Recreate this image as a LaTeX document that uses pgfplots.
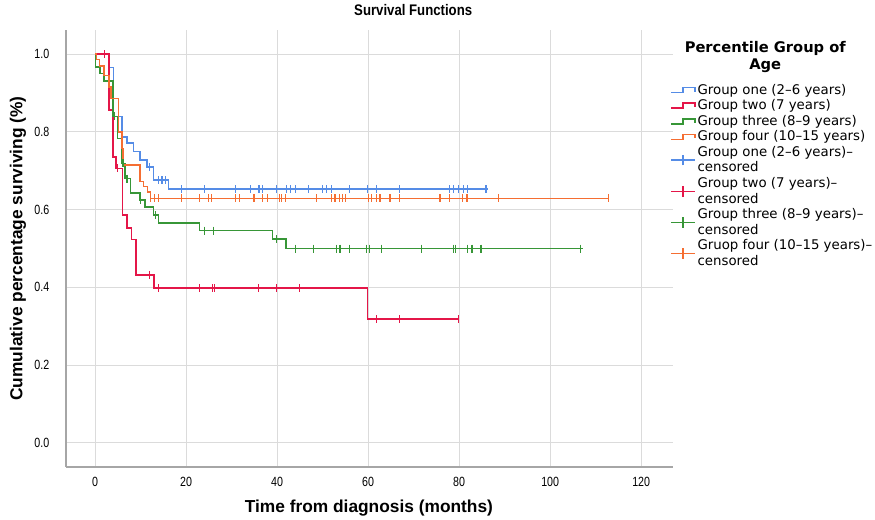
\documentclass[border=0pt]{standalone}
\usepackage{fontspec}
\setmainfont{DejaVu Sans}
\newfontfamily\labelfont{Liberation Sans}
\newfontfamily\titlefont{Liberation Sans}[FakeStretch=0.86]
\newfontfamily\tickfont{Liberation Sans}[FakeStretch=0.8]
\usepackage{pgfplots}
\pgfplotsset{compat=1.18}

\definecolor{gone}{RGB}{85,140,230}
\definecolor{gtwo}{RGB}{228,22,72}
\definecolor{gthree}{RGB}{55,150,55}
\definecolor{gfour}{RGB}{245,110,50}

\pgfplotsset{
  steplegend/.style={legend image code/.code={
    \draw[##1] (0pt,-1.9pt) -- (9pt,-1.9pt) -- (9pt,1.9pt) -- (18pt,1.9pt) -- (18pt,-1.2pt);}},
  censlegend/.style={legend image code/.code={
    \draw[##1] (0pt,0pt) -- (18pt,0pt);
    \draw[##1] (9pt,-4pt) -- (9pt,4pt);}},
  cens/.style={only marks, mark=|, mark size=3pt, line width=1pt, color=#1, censlegend},
  surv/.style={const plot, no marks, line width=1.2pt, color=#1, steplegend},
}

\begin{document}
\begin{tikzpicture}
\begin{axis}[
  scale only axis,
  width=455.25pt, height=327.75pt,
  xmin=-6.4, xmax=127, ymin=-0.062, ymax=1.062,
  axis x line*=bottom, axis y line*=left,
  axis line style={draw=gray!70, line width=1.2pt, -},
  xtick={0,20,40,60,80,100,120},
  ytick={0,0.2,0.4,0.6,0.8,1},
  grid=major,
  major grid style={draw=gray!28, line width=0.8pt},
  tick style={draw=none},
  clip mode=individual,
  /pgf/number format/assume math mode=true,
  ticklabel style={font=\tickfont\fontsize{10}{12}\selectfont},
  yticklabel style={/pgf/number format/.cd, fixed, fixed zerofill, precision=1},
  yticklabel shift=9pt,
  xticklabel shift=4pt,
  label style={font=\labelfont\bfseries\fontsize{13}{15}\selectfont},
  xlabel={Time from diagnosis (months)},
  ylabel={Cumulative percentage surviving (\%)},
  xlabel style={at={(axis description cs:0.499,-0.094)}, anchor=center},
  ylabel style={at={(axis description cs:-0.079,0.5)}, anchor=center},
  title={Survival Functions},
  title style={at={(axis description cs:0.572,1.027)}, anchor=center,
    font=\titlefont\bfseries\fontsize{11.5}{13}\selectfont},
  legend style={at={(axis description cs:0.995,0.881)}, anchor=north west,
    draw=none, fill=none, inner sep=0pt, row sep=0pt,
    font=\fontsize{10}{11.6}\selectfont,
    nodes={inner sep=1.3pt}, cells={align=left}},
  legend cell align=left,
]
\coordinate (sw) at (rel axis cs:0,0);

% Group one (2-6 years)
\addplot[surv=gone] table {
x y
0 1.0
3.1 0.966
4.0 0.84
5.9 0.787
7.0 0.772
8.4 0.749
9.9 0.728
11.4 0.71
12.8 0.676
16.1 0.653
86.4 0.653
};
\addlegendentry{Group one (2–6 years)}

% Group two (7 years)
\addplot[surv=gtwo] table {
x y
0 1.0
3.1 0.856
3.9 0.736
4.6 0.706
6.0 0.586
7.0 0.553
8.0 0.523
9.0 0.432
13.0 0.398
59.9 0.318
79.8 0.318
};
\addlegendentry{Group two (7 years)}

% Group three (8-9 years)
\addplot[surv=gthree] table {
x y
0 1.0
0.1 0.967
1.1 0.95
2.0 0.931
3.9 0.84
4.9 0.783
5.9 0.719
6.6 0.68
7.8 0.643
9.9 0.625
11.0 0.606
12.8 0.586
13.9 0.566
22.9 0.546
39.0 0.524
42.0 0.50
107.3 0.50
};
\addlegendentry{Group three (8–9 years)}

% Group four (10-15 years)
\addplot[surv=gfour] table {
x y
0 1.0
0.3 0.986
1.0 0.97
2.0 0.945
3.0 0.915
3.5 0.886
5.1 0.80
5.9 0.757
6.1 0.715
9.9 0.672
10.6 0.659
11.5 0.646
12.2 0.629
112.8 0.629
};
\addlegendentry{Group four (10–15 years)}

% censored cases
\addplot[cens=gone] table {
x y
11.9 0.71
13.9 0.676
14.7 0.676
15.4 0.676
19.0 0.653
24.0 0.653
30.9 0.653
34.1 0.653
36.0 0.653
36.8 0.653
39.9 0.653
42.0 0.653
42.9 0.653
44.0 0.653
46.9 0.653
50.0 0.653
50.9 0.653
52.0 0.653
55.9 0.653
59.8 0.653
61.9 0.653
66.9 0.653
77.9 0.653
78.7 0.653
79.9 0.653
80.9 0.653
81.8 0.653
85.9 0.653
};
\addlegendentry{Group one (2–6 years)–\\censored}

\addplot[cens=gtwo] table {
x y
2.0 1.0
4.9 0.706
11.9 0.432
13.9 0.398
22.9 0.398
25.8 0.398
26.2 0.398
35.9 0.398
39.9 0.398
44.9 0.398
61.9 0.318
66.9 0.318
79.8 0.318
};
\addlegendentry{Group two (7 years)–\\censored}

\addplot[cens=gthree] table {
x y
4.2 0.84
6.1 0.719
7.0 0.68
9.9 0.625
13.2 0.586
24.0 0.546
26.0 0.546
39.8 0.524
44.0 0.50
48.0 0.50
53.0 0.50
53.8 0.50
55.9 0.50
59.7 0.50
60.3 0.50
62.9 0.50
71.8 0.50
78.8 0.50
79.2 0.50
81.8 0.50
82.8 0.50
84.8 0.50
106.7 0.50
};
\addlegendentry{Group three (8–9 years)–\\censored}

\addplot[cens=gfour] table {
x y
12.1 0.629
13.0 0.629
13.9 0.629
19.0 0.629
22.9 0.629
24.9 0.629
25.6 0.629
30.8 0.629
31.7 0.629
34.9 0.629
36.8 0.629
37.9 0.629
40.5 0.629
41.0 0.629
41.8 0.629
48.7 0.629
52.0 0.629
52.7 0.629
53.7 0.629
54.4 0.629
55.0 0.629
60.1 0.629
60.8 0.629
61.9 0.629
62.6 0.629
64.8 0.629
66.9 0.629
75.8 0.629
77.9 0.629
80.8 0.629
81.7 0.629
88.6 0.629
112.8 0.629
};
\addlegendentry{Gruop four (10–15 years)–\\censored}

\node[align=center, font=\bfseries\fontsize{11}{12.75}\selectfont]
  at (axis description cs:1.152,0.939) {Percentile Group of\\Age};
\end{axis}
\pgfresetboundingbox
\path (sw) ++(-49.5pt,-39pt) rectangle ++(656.25pt,389.25pt);
\end{tikzpicture}
\end{document}
